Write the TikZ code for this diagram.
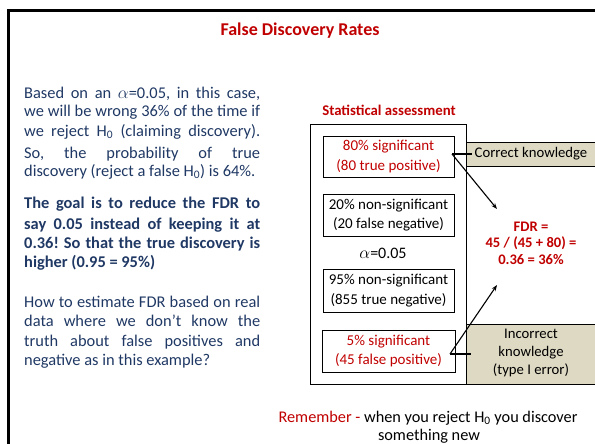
\documentclass[tikz,border=0pt]{standalone}
\usepackage{fontspec}
\setmainfont{Carlito}
\usetikzlibrary{arrows.meta}
\definecolor{navy}{RGB}{31,56,100}
\definecolor{darkred}{RGB}{192,0,0}
\definecolor{tan}{RGB}{221,217,195}
\frenchspacing
\tikzset{
  ptext/.style={anchor=base west, inner sep=0pt, text=navy, font=\fontsize{16.4}{18}\selectfont},
  btext/.style={ptext, font=\fontsize{16.4}{18}\selectfont\bfseries},
  outcome/.style={draw=black, line width=0.8pt, minimum width=131pt, inner sep=0pt, align=center, font=\fontsize{15}{19.5}\selectfont},
  tanbox/.style={draw=black, line width=0.8pt, fill=tan, anchor=north west, inner sep=0pt},
  link/.style={line width=1.1pt, black},
  arr/.style={link, -{Stealth[length=6pt,width=4.5pt]}},
}
\newcommand{\jline}[1]{\makebox[236pt][s]{#1}}
\begin{document}
\begin{tikzpicture}[x=1pt,y=-1pt]
\useasboundingbox (0,0) rectangle (595,444);
\begin{scope}
\clip (0,0) rectangle (595,444);
\draw[line width=3pt] (8,450) -- (8,10.5) -- (600,10.5);
% tan boxes
\node[tanbox, minimum width=140pt, minimum height=24pt] (ck) at (466,142) {};
\node[tanbox, minimum width=140pt, minimum height=60pt] (ik) at (466,324) {};
\end{scope}
% title
\node[anchor=base, text=darkred, font=\fontsize{18}{20}\selectfont\bfseries] (title) at (300,36) {False Discovery Rates};
% left paragraph 1
\node[ptext] (l1) at (24,99) {\jline{Based on an $\alpha$=0.05, in this case,}};
\node[ptext] (l2) at (24,117) {\jline{we will be wrong 36\% of the time if}};
\node[ptext] (l3) at (24,136) {\jline{we reject H\textsubscript{0} (claiming discovery).}};
\node[ptext] (l4) at (24,158) {\jline{So, the probability of true}};
\node[ptext] (l5) at (24,176) {discovery (reject a false H\textsubscript{0}) is 64\%.};
% bold paragraph
\node[btext] (b1) at (24,208) {\jline{The goal is to reduce the FDR to}};
\node[btext] (b2) at (24,229) {\jline{say 0.05 instead of keeping it at}};
\node[btext] (b3) at (24,248) {\jline{0.36! So that the true discovery is}};
\node[btext] (b4) at (24,267) {higher (0.95 = 95\%)};
% third paragraph
\node[ptext] (q1) at (24,307) {\jline{How to estimate FDR based on real}};
\node[ptext] (q2) at (24,326) {\jline{data where we don’t know the}};
\node[ptext] (q3) at (24,346) {\jline{truth about false positives and}};
\node[ptext] (q4) at (24,365) {negative as in this example?};
% statistical assessment
\node[anchor=base, text=darkred, font=\fontsize{14.8}{16}\selectfont\bfseries] (sa) at (389,115) {Statistical assessment};
\draw[line width=0.8pt] (310,124) rectangle (466,384);
\node[outcome, text=darkred, minimum height=41pt] (o1) at (388.5,156.5) {80\% significant\\(80 true positive)};
\node[outcome, minimum height=42pt] (o2) at (388.5,215) {20\% non-significant\\(20 false negative)};
\node[font=\fontsize{16}{18}\selectfont, inner sep=0pt] (alpha) at (383,253) {$\alpha$=0.05};
\node[outcome, minimum height=43pt] (o3) at (388.5,290.5) {95\% non-significant\\(855 true negative)};
\node[outcome, text=darkred, minimum height=42pt, minimum width=133pt] (o4) at (388.5,351) {5\% significant\\(45 false positive)};
% right boxes text
\node[font=\fontsize{14.7}{16}\selectfont, inner sep=0pt] (ckt) at (531,154) {Correct knowledge};
\node[font=\fontsize{14.7}{18}\selectfont, inner sep=0pt, align=center] (ikt) at (531,353) {Incorrect\\knowledge\\(type I error)};
% FDR
\node[text=darkred, font=\fontsize{14.6}{16.5}\selectfont\bfseries, align=center, inner sep=0pt] (fdr) at (531,243) {FDR =\\45 / (45 + 80) =\\0.36 = 36\%};
% connectors
\coordinate (c1) at (452,154);
\coordinate (c1e) at (472,154);
\coordinate (a1) at (497,209);
\coordinate (c2) at (450,354);
\coordinate (c2e) at (471,354);
\coordinate (a2) at (497,285);
\draw[link] (c1) -- (c1e);
\draw[arr] (c1) -- (a1);
\draw[link] (c2) -- (c2e);
\draw[arr] (c2) -- (a2);
% remember
\node[anchor=base, font=\fontsize{16.3}{18}\selectfont, inner sep=0pt] (rem1) at (428,422) {\textcolor{darkred}{Remember -} when you reject H\textsubscript{0} you discover};
\node[anchor=base, font=\fontsize{16.3}{18}\selectfont, inner sep=0pt] (rem2) at (429,440) {something new};
\end{tikzpicture}
\end{document}
